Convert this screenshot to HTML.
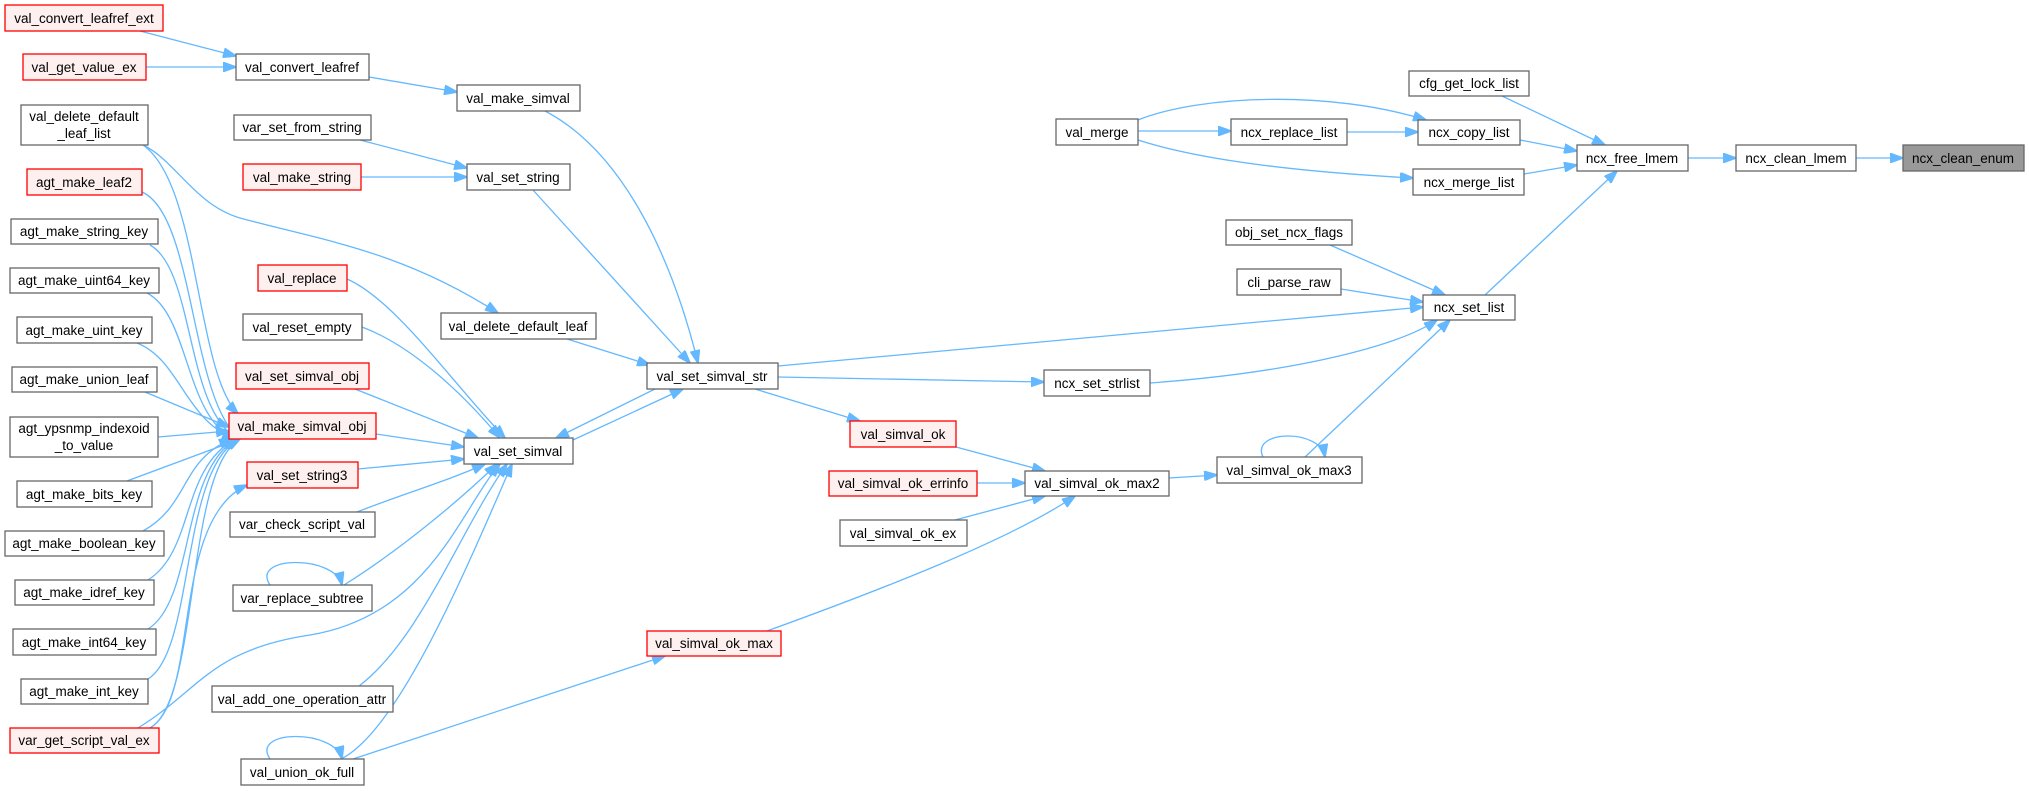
<!DOCTYPE html>
<html><head><meta charset="utf-8"><style>
html,body{margin:0;padding:0;background:#fff;}
svg{display:block;}
text{font-family:"Liberation Sans",Arial,sans-serif;font-size:13.5px;fill:#000;text-anchor:middle;}
.n{fill:#fff;stroke:#666;stroke-width:1.3;}
.r{fill:#fff0f0;stroke:#ff0000;stroke-width:1.3;}
.g{fill:#999;stroke:#666;stroke-width:1.3;}
.e{fill:none;stroke:#63b8ff;stroke-width:1.3;marker-end:url(#a);}
</style></head><body>
<svg width="2029" height="791" viewBox="0 0 2029 791" xmlns="http://www.w3.org/2000/svg">
<defs><marker id="a" markerUnits="userSpaceOnUse" markerWidth="14" markerHeight="10" refX="13" refY="5" orient="auto"><path d="M0,0 L14,5 L0,10 z" fill="#63b8ff" stroke="#63b8ff"/></marker></defs>

<!-- edges -->
<path class="e" d="M140,31 L236,56"/>
<path class="e" d="M146,67 L236,67"/>
<path class="e" d="M369,77 L457,92"/>
<path class="e" d="M545,111 C620,150 670,250 698,363"/>
<path class="e" d="M360,140 L467,168"/>
<path class="e" d="M361,177 L467,177"/>
<path class="e" d="M533,190 L690,363"/>
<path class="e" d="M143,145 C175,160 195,205 240,218 C320,240 400,250 498,313"/>
<path class="e" d="M143,145 C200,185 195,370 238,414"/>
<path class="e" d="M142,192 C195,215 190,400 240,439"/>
<path class="e" d="M150,245 C195,270 185,410 238,439"/>
<path class="e" d="M147,293 C190,315 185,420 236,439"/>
<path class="e" d="M137,343 C180,360 185,420 235,439"/>
<path class="e" d="M145,392 L229,427"/>
<path class="e" d="M158,437 L229,431"/>
<path class="e" d="M127,481 L240,439"/>
<path class="e" d="M143,531 C190,505 180,460 232,439"/>
<path class="e" d="M148,580 C195,550 180,470 235,439"/>
<path class="e" d="M148,629 C195,600 180,470 237,439"/>
<path class="e" d="M148,679 C195,650 180,470 239,439"/>
<path class="e" d="M150,728 C200,700 185,470 240,439"/>
<path class="e" d="M150,728 C200,700 170,520 247,485"/>
<path class="e" d="M138,728 C200,690 210,650 310,635 C430,615 460,510 500,464"/>
<path class="e" d="M347,279 C395,300 450,380 505,438"/>
<path class="e" d="M362,327 C410,345 460,390 500,438"/>
<path class="e" d="M355,389 L478,438"/>
<path class="e" d="M376,434 L464,447"/>
<path class="e" d="M358,469 L464,459"/>
<path class="e" d="M357,512 C400,495 450,480 485,464"/>
<path class="e" d="M344,585 C400,550 460,500 497,464"/>
<path class="e" d="M359,686 C420,640 460,530 507,464"/>
<path class="e" d="M341,759 C400,730 470,560 512,464"/>
<path class="e" d="M567,339 L650,365"/>
<path class="e" d="M655,389 L556,438"/>
<path class="e" d="M573,440 L683,389"/>
<path class="e" d="M270,585 C250,555 335,555 342,585"/>
<path class="e" d="M270,759 C250,729 335,729 342,759"/>
<path class="e" d="M353,759 L665,656"/>
<path class="e" d="M767,631 C880,590 1010,540 1075,496"/>
<path class="e" d="M778,366 L1423,307"/>
<path class="e" d="M778,377 L1044,382"/>
<path class="e" d="M755,389 L860,421"/>
<path class="e" d="M1150,383 C1300,372 1400,345 1437,320"/>
<path class="e" d="M956,447 L1045,471"/>
<path class="e" d="M977,483 L1025,483"/>
<path class="e" d="M955,520 L1045,496"/>
<path class="e" d="M1169,478 L1217,475"/>
<path class="e" d="M1263,457 C1250,430 1320,428 1325,457"/>
<path class="e" d="M1305,457 L1450,320"/>
<path class="e" d="M1485,295 L1617,171"/>
<path class="e" d="M1330,245 L1445,295"/>
<path class="e" d="M1341,289 L1423,302"/>
<path class="e" d="M1502,96 L1605,145"/>
<path class="e" d="M1520,140 L1577,151"/>
<path class="e" d="M1524,174 L1577,165"/>
<path class="e" d="M1138,131 L1231,131"/>
<path class="e" d="M1347,132 L1418,132"/>
<path class="e" d="M1138,120 C1200,95 1330,90 1426,120"/>
<path class="e" d="M1138,140 C1200,160 1300,172 1413,178"/>
<path class="e" d="M1688,158 L1736,158"/>
<path class="e" d="M1856,158 L1903,158"/>

<!-- nodes -->
<g>
<rect class="r" x="5" y="5" width="158" height="26"/><text x="84" y="23">val_convert_leafref_ext</text>
<rect class="r" x="23" y="54" width="123" height="26"/><text x="84" y="72">val_get_value_ex</text>
<rect class="n" x="236" y="54" width="133" height="26"/><text x="302" y="72">val_convert_leafref</text>
<rect class="n" x="457" y="85" width="123" height="26"/><text x="518" y="103">val_make_simval</text>
<rect class="n" x="21" y="105" width="127" height="40"/><text x="84" y="121">val_delete_default</text><text x="84" y="138">_leaf_list</text>
<rect class="n" x="234" y="115" width="137" height="25"/><text x="302" y="132">var_set_from_string</text>
<rect class="r" x="27" y="169" width="115" height="26"/><text x="84" y="187">agt_make_leaf2</text>
<rect class="r" x="243" y="164" width="118" height="26"/><text x="302" y="182">val_make_string</text>
<rect class="n" x="467" y="164" width="103" height="26"/><text x="518" y="182">val_set_string</text>
<rect class="n" x="11" y="219" width="147" height="25"/><text x="84" y="236">agt_make_string_key</text>
<rect class="n" x="10" y="268" width="149" height="25"/><text x="84" y="285">agt_make_uint64_key</text>
<rect class="r" x="258" y="265" width="89" height="26"/><text x="302" y="283">val_replace</text>
<rect class="n" x="243" y="314" width="119" height="26"/><text x="302" y="332">val_reset_empty</text>
<rect class="n" x="441" y="313" width="155" height="26"/><text x="518" y="331">val_delete_default_leaf</text>
<rect class="n" x="17" y="317" width="135" height="26"/><text x="84" y="335">agt_make_uint_key</text>
<rect class="n" x="12" y="367" width="145" height="25"/><text x="84" y="384">agt_make_union_leaf</text>
<rect class="r" x="236" y="363" width="133" height="26"/><text x="302" y="381">val_set_simval_obj</text>
<rect class="n" x="647" y="363" width="131" height="26"/><text x="712" y="381">val_set_simval_str</text>
<rect class="r" x="229" y="413" width="147" height="26"/><text x="302" y="431">val_make_simval_obj</text>
<rect class="n" x="10" y="417" width="148" height="40"/><text x="84" y="433">agt_ypsnmp_indexoid</text><text x="84" y="450">_to_value</text>
<rect class="n" x="464" y="438" width="109" height="26"/><text x="518" y="456">val_set_simval</text>
<rect class="r" x="247" y="462" width="111" height="26"/><text x="302" y="480">val_set_string3</text>
<rect class="n" x="17" y="481" width="135" height="26"/><text x="84" y="499">agt_make_bits_key</text>
<rect class="n" x="230" y="512" width="145" height="25"/><text x="302" y="529">var_check_script_val</text>
<rect class="n" x="5" y="531" width="159" height="25"/><text x="84" y="548">agt_make_boolean_key</text>
<rect class="n" x="15" y="580" width="139" height="25"/><text x="84" y="597">agt_make_idref_key</text>
<rect class="n" x="233" y="585" width="139" height="26"/><text x="302" y="603">var_replace_subtree</text>
<rect class="n" x="13" y="629" width="143" height="26"/><text x="84" y="647">agt_make_int64_key</text>
<rect class="n" x="21" y="679" width="127" height="25"/><text x="84" y="696">agt_make_int_key</text>
<rect class="n" x="212" y="686" width="181" height="26"/><text x="302" y="704">val_add_one_operation_attr</text>
<rect class="r" x="10" y="728" width="149" height="25"/><text x="84" y="745">var_get_script_val_ex</text>
<rect class="n" x="241" y="759" width="123" height="26"/><text x="302" y="777">val_union_ok_full</text>
<rect class="r" x="647" y="631" width="134" height="25"/><text x="714" y="648">val_simval_ok_max</text>
<rect class="n" x="1044" y="370" width="106" height="26"/><text x="1097" y="388">ncx_set_strlist</text>
<rect class="r" x="850" y="421" width="106" height="26"/><text x="903" y="439">val_simval_ok</text>
<rect class="r" x="829" y="471" width="148" height="25"/><text x="903" y="488">val_simval_ok_errinfo</text>
<rect class="n" x="1025" y="471" width="144" height="25"/><text x="1097" y="488">val_simval_ok_max2</text>
<rect class="n" x="1217" y="457" width="145" height="26"/><text x="1289" y="475">val_simval_ok_max3</text>
<rect class="n" x="840" y="520" width="127" height="26"/><text x="903" y="538">val_simval_ok_ex</text>
<rect class="n" x="1409" y="71" width="120" height="25"/><text x="1469" y="88">cfg_get_lock_list</text>
<rect class="n" x="1056" y="119" width="82" height="26"/><text x="1097" y="137">val_merge</text>
<rect class="n" x="1231" y="119" width="116" height="26"/><text x="1289" y="137">ncx_replace_list</text>
<rect class="n" x="1418" y="120" width="102" height="25"/><text x="1469" y="137">ncx_copy_list</text>
<rect class="n" x="1577" y="145" width="111" height="26"/><text x="1632" y="163">ncx_free_lmem</text>
<rect class="n" x="1736" y="145" width="120" height="26"/><text x="1796" y="163">ncx_clean_lmem</text>
<rect class="g" x="1903" y="145" width="121" height="26"/><text x="1963" y="163">ncx_clean_enum</text>
<rect class="n" x="1413" y="169" width="111" height="26"/><text x="1469" y="187">ncx_merge_list</text>
<rect class="n" x="1226" y="220" width="126" height="25"/><text x="1289" y="237">obj_set_ncx_flags</text>
<rect class="n" x="1237" y="269" width="104" height="26"/><text x="1289" y="287">cli_parse_raw</text>
<rect class="n" x="1423" y="295" width="92" height="25"/><text x="1469" y="312">ncx_set_list</text>
</g>
</svg>
</body></html>
